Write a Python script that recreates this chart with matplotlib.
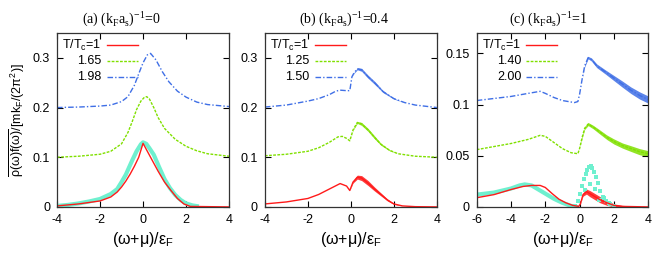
import matplotlib
matplotlib.use('Agg')
import matplotlib.pyplot as plt
from matplotlib.ticker import FormatStrFormatter
import numpy as np

plt.rcParams['font.family'] = 'Liberation Sans'
plt.rcParams['mathtext.fontset'] = 'custom'
plt.rcParams['mathtext.rm'] = 'Liberation Sans'
plt.rcParams['mathtext.it'] = 'Liberation Sans'
plt.rcParams['mathtext.bf'] = 'Liberation Sans'

RED = '#ff1a1a'
GREEN = '#80e000'
BLUE = '#3f6fe6'
CYAN = '#6ff0cf'

# ---- panel (a): (kF as)^-1 = 0 ----
a_red_x = [-4, -3, -2.5, -2, -1.5, -1.2, -1, -0.8, -0.6, -0.4, -0.2, 0, 0.1, 0.3, 0.5, 0.7, 1.0, 1.3, 1.6, 1.9, 2.2, 4]
a_red_y = [0.002, 0.006, 0.009, 0.012, 0.02, 0.03, 0.04, 0.052, 0.066, 0.082, 0.10, 0.128, 0.12, 0.104, 0.088, 0.072, 0.05, 0.033, 0.017, 0.006, 0.001, 0]
a_cyan_x = [-4, -3.5, -3, -2.5, -2, -1.5, -1.2, -1, -0.8, -0.5, -0.3, -0.1, 0, 0.15, 0.3, 0.5, 0.75, 1.0, 1.25, 1.5, 1.75, 2.0, 2.3, 2.6]
a_cyan_y = [0.002, 0.004, 0.007, 0.011, 0.016, 0.026, 0.036, 0.05, 0.065, 0.094, 0.112, 0.126, 0.13, 0.127, 0.118, 0.105, 0.08, 0.056, 0.038, 0.024, 0.014, 0.007, 0.003, 0.001]
a_green_x = [-4, -3, -2, -1.5, -1, -0.7, -0.5, -0.3, -0.1, 0.05, 0.17, 0.3, 0.5, 0.7, 1.0, 1.5, 2.0, 2.5, 3, 4]
a_green_y = [0.1, 0.102, 0.106, 0.112, 0.127, 0.15, 0.172, 0.196, 0.213, 0.22, 0.222, 0.217, 0.2, 0.18, 0.158, 0.136, 0.122, 0.113, 0.107, 0.102]
a_blue_x = [-4, -3, -2, -1.5, -1, -0.7, -0.4, -0.2, 0, 0.2, 0.35, 0.6, 0.9, 1.2, 1.6, 2.0, 2.5, 3, 4]
a_blue_y = [0.2, 0.201, 0.203, 0.205, 0.212, 0.222, 0.245, 0.268, 0.29, 0.306, 0.309, 0.296, 0.272, 0.252, 0.233, 0.221, 0.211, 0.206, 0.202]

# ---- panel (b): (kF as)^-1 = 0.4 ----
b_red_x = [-4, -3, -2, -1.5, -1, -0.5, -0.2, -0.05, 0.1, 0.3, 0.5, 0.8, 1.1, 1.4, 1.7, 2.0, 2.4, 3, 4]
b_red_y = [0.006, 0.01, 0.017, 0.025, 0.036, 0.047, 0.042, 0.033, 0.05, 0.06, 0.058, 0.048, 0.036, 0.025, 0.014, 0.006, 0.002, 0.0005, 0]
b_red_s = [0, 0, 0, 0, 0, 0, 0, 0, 0.002, 0.004, 0.005, 0.005, 0.004, 0.003, 0.002, 0.001, 0, 0, 0]
b_green_x = [-4, -3, -2, -1.5, -1, -0.6, -0.4, -0.2, -0.05, 0.1, 0.3, 0.5, 0.8, 1.1, 1.4, 1.8, 2.2, 3, 4]
b_green_y = [0.103, 0.106, 0.112, 0.119, 0.13, 0.141, 0.142, 0.138, 0.133, 0.155, 0.17, 0.167, 0.155, 0.14, 0.126, 0.114, 0.107, 0.102, 0.1]
b_green_s = [0, 0, 0, 0, 0, 0, 0, 0, 0, 0.001, 0.002, 0.003, 0.003, 0.003, 0.002, 0.001, 0, 0, 0]
b_blue_x = [-4, -3, -2, -1.5, -1, -0.7, -0.5, -0.2, -0.05, 0.05, 0.15, 0.3, 0.5, 0.8, 1.1, 1.5, 2.0, 2.5, 3, 4]
b_blue_y = [0.201, 0.205, 0.213, 0.218, 0.226, 0.233, 0.235, 0.234, 0.234, 0.262, 0.27, 0.278, 0.276, 0.262, 0.25, 0.232, 0.218, 0.21, 0.205, 0.2]
b_blue_s = [0, 0, 0, 0, 0, 0, 0, 0, 0, 0, 0.001, 0.002, 0.003, 0.003, 0.003, 0.002, 0.001, 0, 0, 0]

# ---- panel (c): (kF as)^-1 = 1 ----
c_red_x = [-6, -5, -4, -3.3, -2.8, -2.3, -2.0, -1.6, -1.2, -0.8, -0.4, -0.05, 0.05, 0.2, 0.4, 0.6, 0.9, 1.2, 1.6, 2.0, 2.5, 4]
c_red_y = [0.009, 0.012, 0.017, 0.02, 0.021, 0.021, 0.019, 0.013, 0.0075, 0.004, 0.0015, 0.0005, 0.003, 0.012, 0.015, 0.013, 0.01, 0.007, 0.004, 0.0015, 0.0005, 0]
c_red_s = [0, 0, 0, 0, 0, 0, 0, 0, 0, 0, 0, 0, 0, 0.0015, 0.0025, 0.003, 0.003, 0.003, 0.0025, 0.0015, 0.001, 0]
c_cyan_x = [-6, -5, -4, -3.5, -3.2, -2.8, -2.4, -2.0, -1.5, -1.0, -0.5, -0.2]
c_cyan_y = [0.012, 0.014, 0.018, 0.021, 0.022, 0.021, 0.017, 0.013, 0.008, 0.004, 0.001, 0]
c_cyan_px = [-0.25, -0.1, 0.0, 0.12, 0.25, 0.35, 0.45, 0.55, 0.65, 0.75, 0.85, 0.95, 1.05, 1.2, 1.35, 1.55, 1.8, 2.0, 0.3, 0.6, 0.9, 1.15, 1.45, 1.7]
c_cyan_py = [0.001, 0.006, 0.013, 0.02, 0.027, 0.032, 0.036, 0.039, 0.04, 0.038, 0.034, 0.029, 0.023, 0.016, 0.01, 0.006, 0.003, 0.001, 0.017, 0.022, 0.018, 0.007, 0.009, 0.004]
c_green_x = [-6, -5, -4, -3, -2.3, -2, -1.5, -1, -0.5, -0.1, 0, 0.15, 0.3, 0.5, 0.8, 1.2, 1.6, 2.0, 2.5, 3.0, 3.5, 4]
c_green_y = [0.056, 0.059, 0.062, 0.066, 0.07, 0.069, 0.063, 0.057, 0.053, 0.052, 0.057, 0.068, 0.077, 0.081, 0.078, 0.073, 0.068, 0.064, 0.06, 0.057, 0.054, 0.052]
c_green_s = [0, 0, 0, 0, 0, 0, 0, 0, 0, 0, 0, 0.001, 0.0012, 0.0015, 0.0017, 0.002, 0.0022, 0.0025, 0.0025, 0.0028, 0.003, 0.003]
c_blue_x = [-6, -5, -4, -3, -2.3, -2, -1.5, -1, -0.3, -0.1, 0, 0.15, 0.3, 0.5, 0.7, 1.0, 1.5, 2.0, 2.5, 3.0, 3.5, 4]
c_blue_y = [0.104, 0.106, 0.108, 0.111, 0.113, 0.111, 0.107, 0.104, 0.102, 0.103, 0.11, 0.125, 0.138, 0.146, 0.144, 0.138, 0.132, 0.126, 0.12, 0.114, 0.109, 0.105]
c_blue_s = [0, 0, 0, 0, 0, 0, 0, 0, 0, 0, 0, 0, 0.001, 0.0012, 0.0015, 0.0018, 0.002, 0.0025, 0.003, 0.0032, 0.0035, 0.0035]

legend_a = ['T/T$_\\mathregular{c}$=1', '1.65', '1.98']
legend_b = ['T/T$_\\mathregular{c}$=1', '1.25', '1.50']
legend_c = ['T/T$_\\mathregular{c}$=1', '1.40', '2.00']

titles = ['(a) (k$_\\mathregular{F}$a$_\\mathregular{s}$)$^\\mathregular{-1}$=0',
          '(b) (k$_\\mathregular{F}$a$_\\mathregular{s}$)$^\\mathregular{-1}$=0.4',
          '(c) (k$_\\mathregular{F}$a$_\\mathregular{s}$)$^\\mathregular{-1}$=1']
title_x = [0.185, 0.526, 0.838]

fig = plt.figure(figsize=(6.54, 2.58), dpi=100)
ax_a = fig.add_axes([0.0872, 0.198, 0.263, 0.674])
ax_b = fig.add_axes([0.405, 0.198, 0.263, 0.674])
ax_c = fig.add_axes([0.729, 0.198, 0.262, 0.674])

green_ls = (0, (2, 1))
blue_ls = (0, (4, 1.5, 1, 1.5))


def curve(ax, x, y, color, ls, s=None):
    ax.plot(x, y, color=color, lw=1.0, ls=ls)
    if s is not None:
        y = np.array(y)
        s = np.array(s)
        ax.fill_between(x, y - s, y + s, color=color, lw=0, alpha=0.85)


def legend(ax, labels):
    styles = [(RED, '-'), (GREEN, green_ls), (BLUE, blue_ls)]
    for i, (lab, (col, ls)) in enumerate(zip(labels, styles)):
        yy = 0.93 - i * 0.092
        ax.text(0.26, yy, lab, transform=ax.transAxes, ha='right', va='center', fontsize=9)
        ax.plot([0.29, 0.47], [yy, yy], transform=ax.transAxes, color=col, ls=ls, lw=1.0)


# panel a
ax_a.plot(a_cyan_x, a_cyan_y, color=CYAN, lw=3.0, solid_capstyle='butt')
curve(ax_a, a_red_x, a_red_y, RED, '-')
curve(ax_a, a_green_x, a_green_y, GREEN, green_ls)
curve(ax_a, a_blue_x, a_blue_y, BLUE, blue_ls)
legend(ax_a, legend_a)

# panel b
curve(ax_b, b_red_x, b_red_y, RED, '-', b_red_s)
curve(ax_b, b_green_x, b_green_y, GREEN, green_ls, b_green_s)
curve(ax_b, b_blue_x, b_blue_y, BLUE, blue_ls, b_blue_s)
legend(ax_b, legend_b)

# panel c
ax_c.plot(c_cyan_x, c_cyan_y, color=CYAN, lw=3.0)
ax_c.plot(c_cyan_px, c_cyan_py, 's', color=CYAN, ms=2.4, mew=0)
curve(ax_c, c_red_x, c_red_y, RED, '-', c_red_s)
curve(ax_c, c_green_x, c_green_y, GREEN, green_ls, c_green_s)
curve(ax_c, c_blue_x, c_blue_y, BLUE, blue_ls, c_blue_s)
legend(ax_c, legend_c)

ax_a.set_xlim(-4, 4)
ax_b.set_xlim(-4, 4)
ax_c.set_xlim(-6, 4)
ax_a.set_ylim(0, 0.35)
ax_b.set_ylim(0, 0.35)
ax_c.set_ylim(0, 0.17)
ax_a.set_yticks([0, 0.1, 0.2, 0.3])
ax_b.set_yticks([0, 0.1, 0.2, 0.3])
ax_c.set_yticks([0, 0.05, 0.1, 0.15])
ax_a.set_xticks([-4, -2, 0, 2, 4])
ax_b.set_xticks([-4, -2, 0, 2, 4])
ax_c.set_xticks([-6, -4, -2, 0, 2, 4])

for ax, t, tx in zip([ax_a, ax_b, ax_c], titles, title_x):
    ax.yaxis.set_major_formatter(FormatStrFormatter('%g'))
    ax.xaxis.set_major_formatter(FormatStrFormatter('%g'))
    ax.tick_params(direction='in', top=True, right=True, length=4, width=0.8,
                   labelsize=9, pad=5)
    for sp in ax.spines.values():
        sp.set_linewidth(0.9)
        sp.set_color('#333333')
    ax.set_xlabel('(ω+μ)/ε$_\\mathregular{F}$', fontsize=11.5, labelpad=3)
    fig.text(tx, 0.93, t, fontsize=10, family='Liberation Serif', ha='center', va='center')

ax_a.set_ylabel('$\\overline{\\rho(\\omega)f(\\omega)}$/[mk$_\\mathregular{F}$/(2$\\pi^2$)]',
                fontsize=9, labelpad=4)

plt.savefig('out.png', dpi=100)
